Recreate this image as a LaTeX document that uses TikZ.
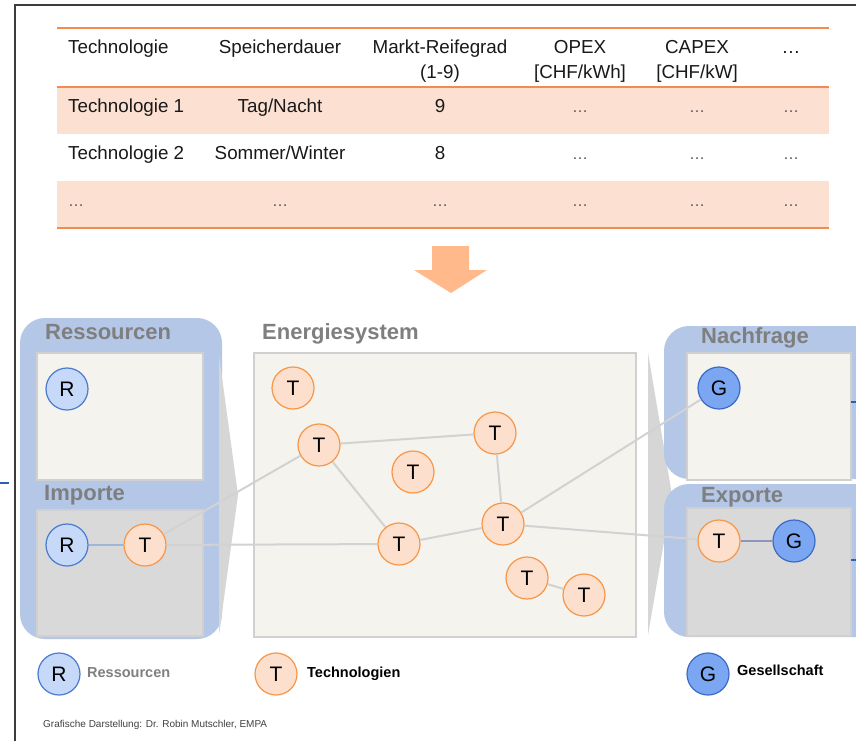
\documentclass[tikz,border=0pt]{standalone}
\usepackage{fontspec}
\setmainfont{Liberation Sans}
\definecolor{org}{HTML}{F48B4E}
\definecolor{rowfill}{HTML}{FCE1D3}
\definecolor{arrowc}{HTML}{FFB98A}
\definecolor{panel}{HTML}{B4C7E7}
\definecolor{cream}{HTML}{F4F3ED}
\definecolor{boxgray}{HTML}{D9D9D9}
\definecolor{boxborder}{HTML}{D0D0D0}
\definecolor{funnelgray}{HTML}{D6D6D6}
\definecolor{edgegray}{HTML}{D2D2D2}
\definecolor{tfill}{HTML}{FDDFCE}
\definecolor{tdraw}{HTML}{F79646}
\definecolor{rfill}{HTML}{C6D9F8}
\definecolor{rdraw}{HTML}{4A7BD0}
\definecolor{gfill}{HTML}{7BA7F2}
\definecolor{gdraw}{HTML}{3A6AC6}
\definecolor{labgray}{HTML}{7F7F7F}
\definecolor{framec}{HTML}{3C3C3C}
\definecolor{tickc}{HTML}{2E5FB5}
\definecolor{rtedgec}{HTML}{9CB8D6}
\definecolor{tgedgec}{HTML}{8F94BD}
\definecolor{dotc}{HTML}{555555}
\begin{document}
\begin{tikzpicture}[x=1pt,y=-1pt,
  circ/.style={circle,line width=1.2pt,minimum size=42pt,inner sep=0pt,font=\fontsize{21}{23}\selectfont},
  tnode/.style={circ,draw=tdraw,fill=tfill},
  rnode/.style={circ,draw=rdraw,fill=rfill},
  gnode/.style={circ,draw=gdraw,fill=gfill},
  hd/.style={inner sep=0pt,font=\fontsize{18.8}{21}\selectfont,text=black!90},
  dotcell/.style={inner sep=0pt,font=\fontsize{16}{18}\selectfont,text=dotc,anchor=base},
  seclab/.style={inner sep=0pt,anchor=base west,font=\fontsize{22}{24}\selectfont\bfseries,text=labgray},
  leglab/.style={inner sep=0pt,anchor=base west,font=\fontsize{14.5}{16}\selectfont\bfseries},
  edge/.style={draw=edgegray,line width=2pt},
  orgline/.style={draw=org,line width=2.5pt},
  boxline/.style={draw=boxborder,line width=1.2pt}
]
\clip (0,0) rectangle (856,740);
\fill[white] (0,0) rectangle (856,740);

% table
\fill[rowfill] (57,87) rectangle (829,134);
\fill[rowfill] (57,181) rectangle (829,228);
\draw[orgline] (57,28) -- (829,28);
\draw[orgline] (57,87) -- (829,87);
\draw[orgline] (57,228) -- (829,228);

\node[hd,anchor=base west] (h1) at (68,53) {Technologie};
\node[hd,anchor=base] (h2) at (280,53) {Speicherdauer};
\node[hd,anchor=base] (h3) at (440,53) {Markt-Reifegrad};
\node[hd,anchor=base] (h3b) at (440,78) {(1-9)};
\node[hd,anchor=base] (h4) at (580,53) {OPEX};
\node[hd,anchor=base] (h4b) at (580,78) {[CHF/kWh]};
\node[hd,anchor=base] (h5) at (697,53) {CAPEX};
\node[hd,anchor=base] (h5b) at (697,78) {[CHF/kW]};
\node[hd,anchor=base] (h6) at (791,53) {…};

\node[hd,anchor=base west] (a1) at (68,112) {Technologie 1};
\node[hd,anchor=base] (a2) at (280,112) {Tag/Nacht};
\node[hd,anchor=base] (a3) at (440,112) {9};
\node[dotcell] (a4) at (580,112) {…};
\node[dotcell] (a5) at (697,112) {…};
\node[dotcell] (a6) at (791,112) {…};

\node[hd,anchor=base west] (b1) at (68,159) {Technologie 2};
\node[hd,anchor=base] (b2) at (280,159) {Sommer/Winter};
\node[hd,anchor=base] (b3) at (440,159) {8};
\node[dotcell] (b4) at (580,159) {…};
\node[dotcell] (b5) at (697,159) {…};
\node[dotcell] (b6) at (791,159) {…};

\node[dotcell,anchor=base west] (c1) at (68,206) {…};
\node[dotcell] (c2) at (280,206) {…};
\node[dotcell] (c3) at (440,206) {…};
\node[dotcell] (c4) at (580,206) {…};
\node[dotcell] (c5) at (697,206) {…};
\node[dotcell] (c6) at (791,206) {…};

% big arrow
\fill[arrowc] (432,246) -- (469,246) -- (469,270) -- (487,270) -- (451,293) -- (414,270) -- (432,270) -- cycle;

% left panel
\fill[panel,rounded corners=25pt] (20,318) rectangle (222,639);
\draw[boxline,fill=cream] (37,353) rectangle (203,480);
\draw[boxline,fill=boxgray] (37,510) rectangle (203,636);
\fill[funnelgray] (219,355) -- (238,495) -- (219,635) -- cycle;
\node[seclab] (lres) at (45,339) {Ressourcen};
\node[seclab] (limp) at (44,500) {Importe};

% energy system
\draw[boxline,fill=cream] (254,353) rectangle (636,637);
\node[seclab] (lene) at (262,339) {Energiesystem};

% right panels
\fill[funnelgray] (648,353) -- (672,495) -- (648,635) -- cycle;
\fill[panel,rounded corners=25pt] (664,326) rectangle (900,479);
\fill[panel,rounded corners=25pt] (664,484) rectangle (900,637);
\draw[boxline,fill=cream] (687,353) rectangle (851,480);
\draw[boxline,fill=boxgray] (687,508) rectangle (851,636);
\node[seclab] (lnac) at (701,343) {Nachfrage};
\node[seclab] (lexp) at (701,502) {Exporte};

% frame and ticks
\draw[framec,line width=2pt] (15,741) -- (15,5) -- (857,5);
\draw[tickc,line width=2pt] (0,483) -- (9,483);
\draw[tickc,line width=2pt] (851,402) -- (857,402);
\draw[tickc,line width=2pt] (851,560) -- (857,560);

% nodes
\node[rnode] (r1) at (67,389) {R};
\node[rnode] (r2) at (67,545) {R};
\node[tnode] (ti) at (145,545) {T};
\node[tnode] (e1) at (293,388) {T};
\node[tnode] (e2) at (319,445) {T};
\node[tnode] (e3) at (495,433) {T};
\node[tnode] (e4) at (413,472) {T};
\node[tnode] (e5) at (399,544) {T};
\node[tnode] (e6) at (503,524) {T};
\node[tnode] (e7) at (527,578) {T};
\node[tnode] (e8) at (584,595) {T};
\node[gnode] (gn) at (719,388) {G};
\node[tnode] (te) at (719,541) {T};
\node[gnode] (ge) at (794,541) {G};

% connectors
\draw[draw=rtedgec,line width=2pt] (r2) -- (ti);
\draw[edge] (ti) -- (e2);
\draw[edge] (ti) -- (e5);
\draw[edge] (e2) -- (e3);
\draw[edge] (e2) -- (e5);
\draw[edge] (e3) -- (e6);
\draw[edge] (e5) -- (e6);
\draw[edge] (e6) -- (gn);
\draw[edge] (e6) -- (te);
\draw[edge] (e7) -- (e8);
\draw[draw=tgedgec,line width=2pt] (te) -- (ge);

% legend
\node[rnode] (lgr) at (59,674) {R};
\node[leglab,text=labgray] (lgrt) at (87,677) {Ressourcen};
\node[tnode] (lgt) at (276,674) {T};
\node[leglab,text=black] (lgtt) at (307,677) {Technologien};
\node[gnode] (lgg) at (708,674) {G};
\node[leglab,text=black] (lggt) at (737,675) {Gesellschaft};

\node[inner sep=0pt,anchor=base west,font=\fontsize{10}{12}\selectfont,text=black!75] (foot) at (43,727) {Grafische Darstellung: Dr. Robin Mutschler, EMPA};
\end{tikzpicture}
\end{document}
